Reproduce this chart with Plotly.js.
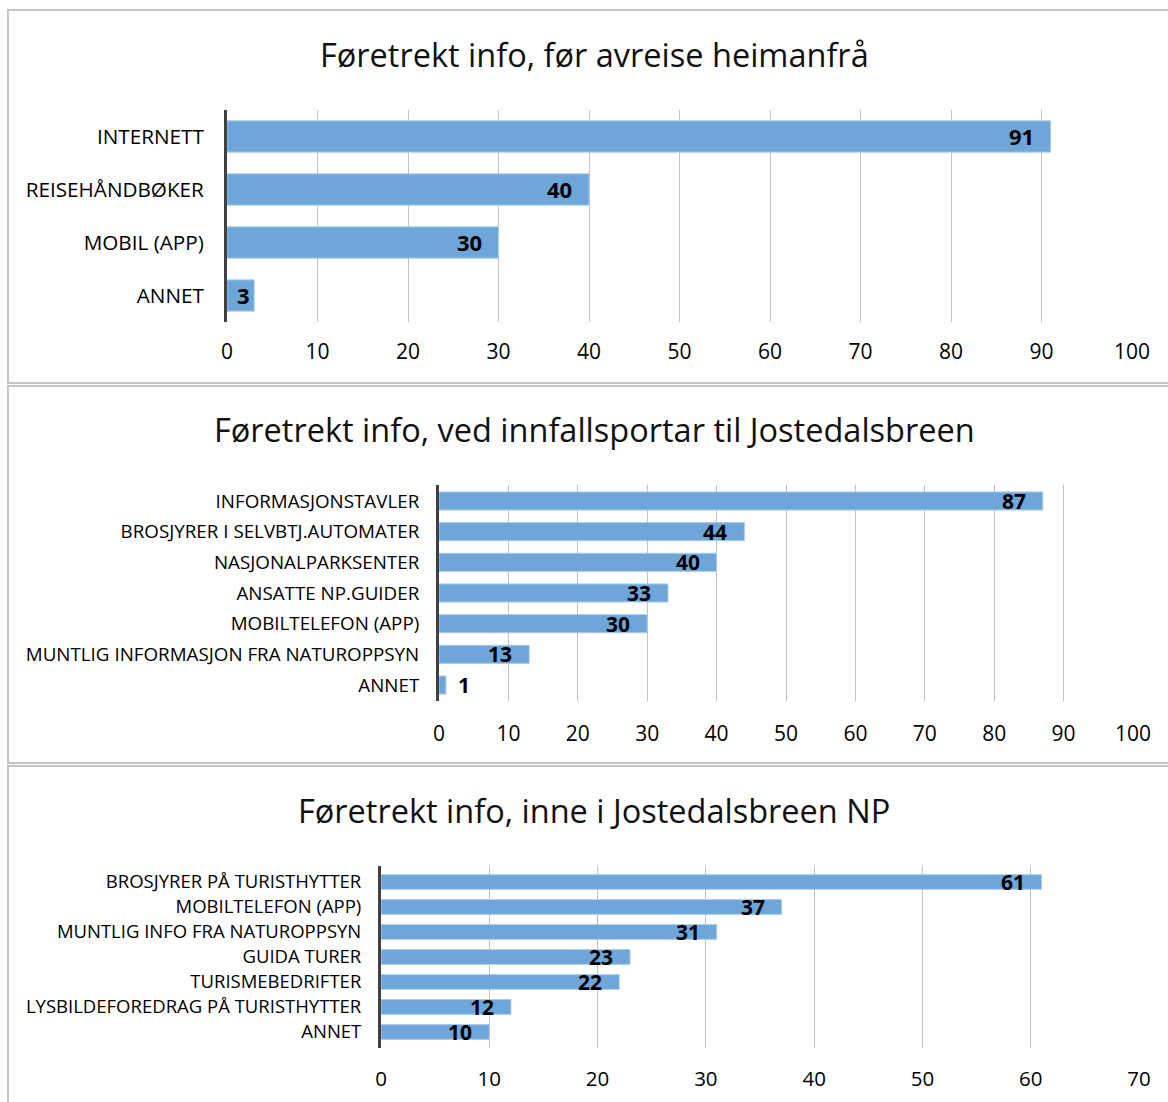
<!DOCTYPE html>
<html>
<head>
<meta charset="utf-8">
<script src="https://cdn.plot.ly/plotly-3.0.1.min.js"></script>
<style>html,body{margin:0;padding:0;background:#fff;}#chart{width:1168px;height:1102px;}</style>
</head>
<body>
<div id="chart"></div>
<script>
// ---- Data ----
const title1 = "Føretrekt info, før avreise heimanfrå";
const cats1 = ["INTERNETT", "REISEHÅNDBØKER", "MOBIL (APP)", "ANNET"];
const vals1 = [91, 40, 30, 3];

const title2 = "Føretrekt info, ved innfallsportar til Jostedalsbreen";
const cats2 = ["INFORMASJONSTAVLER", "BROSJYRER I SELVBTJ.AUTOMATER", "NASJONALPARKSENTER", "ANSATTE NP.GUIDER", "MOBILTELEFON (APP)", "MUNTLIG INFORMASJON FRA NATUROPPSYN", "ANNET"];
const vals2 = [87, 44, 40, 33, 30, 13, 1];

const title3 = "Føretrekt info, inne i Jostedalsbreen NP";
const cats3 = ["BROSJYRER PÅ TURISTHYTTER", "MOBILTELEFON (APP)", "MUNTLIG INFO FRA NATUROPPSYN", "GUIDA TURER", "TURISMEBEDRIFTER", "LYSBILDEFOREDRAG PÅ TURISTHYTTER", "ANNET"];
const vals3 = [61, 37, 31, 23, 22, 12, 10];

const xTicks1 = [0, 10, 20, 30, 40, 50, 60, 70, 80, 90, 100];
const xTicks3 = [0, 10, 20, 30, 40, 50, 60, 70];

// ---- Layout helpers ----
const W = 1168, H = 1102;
const px = v => v / W;
const py = v => 1 - v / H;
const FONT = "Open Sans, sans-serif";
const BAR = "#6FA6DA";

const panels = [
  {cats: cats1, vals: vals1, title: title1, ticks: xTicks1, range: [0, 100], x0: 227, x1: 1132, y0: 110, y1: 322, titleY: 55, box: [8, 10, 1180, 383], catSize: 20.7, catStand: 16, tickSize: 21, tickStand: 15, lblSize: 22},
  {cats: cats2, vals: vals2, title: title2, ticks: xTicks1, range: [0, 100], x0: 439, x1: 1133, y0: 485, y1: 701, titleY: 430, box: [8, 386, 1180, 763], catSize: 18.8, catStand: 13, tickSize: 21, tickStand: 18, lblSize: 21},
  {cats: cats3, vals: vals3, title: title3, ticks: xTicks3, range: [0, 70], x0: 381, x1: 1139, y0: 866, y1: 1048, titleY: 810, box: [8, 766, 1180, 1110], catSize: 18.5, catStand: 13, tickSize: 20.5, tickStand: 16, lblSize: 21}
];

const data = [];
const layout = {
  width: W, height: H,
  margin: {l: 0, r: 0, t: 0, b: 0},
  paper_bgcolor: "#fff", plot_bgcolor: "rgba(0,0,0,0)",
  showlegend: false, bargap: 0.41,
  font: {family: FONT, color: "#000"},
  shapes: [], annotations: []
};

panels.forEach((p, i) => {
  const n = i === 0 ? "" : String(i + 1);
  const xa = "xaxis" + n, ya = "yaxis" + n;
  const xr = "x" + n, yr = "y" + n;
  data.push({
    type: "bar", orientation: "h",
    x: p.vals, y: p.cats,
    xaxis: xr, yaxis: yr,
    marker: {color: BAR, line: {color: "#a9cbec", width: 1}},
    hoverinfo: "skip"
  });
  layout[xa] = {
    domain: [px(p.x0), px(p.x1)], anchor: yr,
    range: p.range, tickvals: p.ticks,
    showgrid: true, gridcolor: "#c2c2c2", gridwidth: 1,
    zeroline: false, showline: false, ticks: "",
    ticklabelstandoff: p.tickStand,
    tickfont: {family: FONT, size: p.tickSize, color: "#000"},
    fixedrange: true
  };
  layout[ya] = {
    domain: [py(p.y1), py(p.y0)], anchor: xr,
    type: "category", autorange: "reversed",
    showgrid: false, zeroline: false,
    showline: true, linecolor: "#404040", linewidth: 3,
    ticks: "", ticklabelstandoff: p.catStand,
    tickfont: {family: FONT, size: p.catSize, color: "#000"},
    fixedrange: true
  };
  // title
  layout.annotations.push({
    xref: "paper", yref: "paper", x: px(594), y: py(p.titleY),
    xanchor: "center", yanchor: "middle", showarrow: false,
    text: p.title, font: {family: FONT, size: 32.5, color: "#111"}
  });
  // panel box
  layout.shapes.push({
    type: "rect", xref: "paper", yref: "paper",
    x0: px(p.box[0]), x1: px(p.box[2]), y0: py(p.box[3]), y1: py(p.box[1]),
    line: {color: "#c4c4c4", width: 2}, layer: "below"
  });
  // value labels
  const ppu = (p.x1 - p.x0) / (p.range[1] - p.range[0]);
  p.vals.forEach((v, k) => {
    const barPx = v * ppu;
    let anchor = "right", shift = -15;
    if (barPx < 15) { anchor = "left"; shift = 10; }
    else if (barPx < 40) { shift = -2; }
    layout.annotations.push({
      xref: xr, yref: yr, x: v, y: p.cats[k],
      xanchor: anchor, yanchor: "middle", xshift: shift, yshift: 0,
      showarrow: false, text: "<b>" + v + "</b>",
      font: {family: FONT, size: p.lblSize, color: "#000"}
    });
  });
});

Plotly.newPlot("chart", data, layout, {displayModeBar: false, staticPlot: true});
</script>
</body>
</html>
